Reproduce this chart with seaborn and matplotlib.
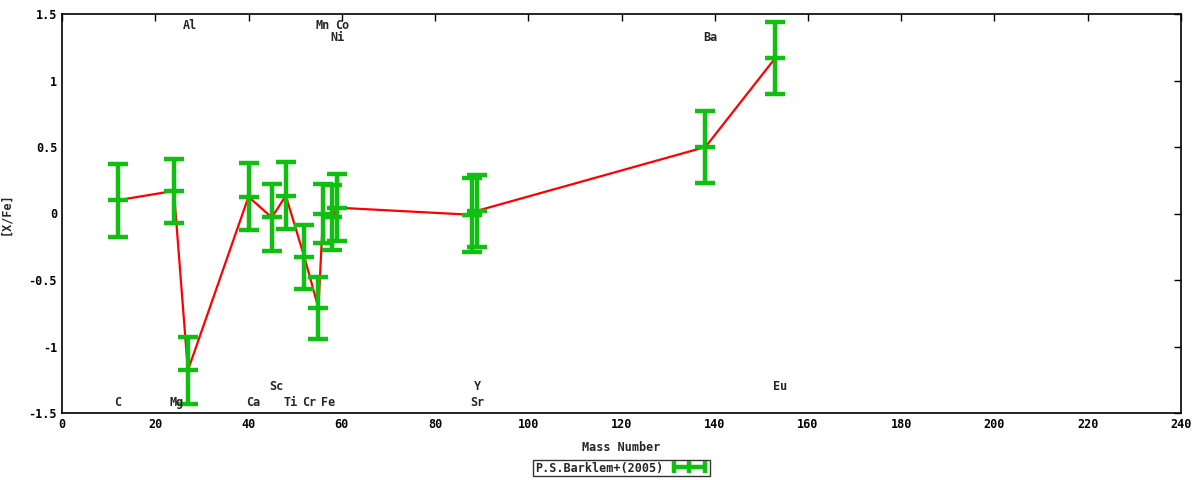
import numpy as np
import pandas as pd
import matplotlib
matplotlib.use('Agg')
import matplotlib.pyplot as plt
import seaborn as sns
from matplotlib.lines import Line2D
from matplotlib.ticker import FormatStrFormatter, MultipleLocator

sns.set_style('white')
plt.rcParams['font.family'] = ['DejaVu Sans Mono', 'DejaVu Sans']
plt.rcParams['font.weight'] = 'bold'
plt.rcParams['font.size'] = 8.5

# abundance data
elements = ['C', 'Mg', 'Al', 'Ca', 'Sc', 'Ti', 'Cr', 'Mn', 'Fe', 'Ni', 'Co', 'Sr', 'Y', 'Ba', 'Eu']
masses = [12, 24, 27, 40, 45, 48, 52, 55, 56, 58, 59, 88, 89, 138, 153]
xfe = [0.10, 0.17, -1.18, 0.126, -0.03, 0.134, -0.33, -0.71, 0.0, -0.03, 0.044, -0.01, 0.02, 0.50, 1.17]
err = [0.275, 0.24, 0.25, 0.25, 0.255, 0.25, 0.24, 0.235, 0.22, 0.245, 0.25, 0.28, 0.27, 0.27, 0.27]

# element name labels
lab_x = [12, 24.5, 27.5, 41, 46, 49, 53, 56, 57, 59, 60, 89, 89, 139, 154]
lab_y = [-1.42, -1.42, 1.41, -1.42, -1.30, -1.42, -1.42, 1.41, -1.42, 1.32, 1.41, -1.42, -1.30, 1.32, -1.30]

green = '#10c010'
df = pd.DataFrame({'mass': masses, 'xfe': xfe, 'err': err})

fig = plt.figure(figsize=(12, 4.8), dpi=100)
ax = fig.add_axes([62 / 1200, 1 - 413 / 480, (1181 - 62) / 1200, (413 - 14) / 480])

sns.lineplot(data=df, x='mass', y='xfe', color='red', lw=1.6, ax=ax, sort=True, legend=False)
ax.errorbar(df['mass'], df['xfe'], yerr=df['err'], fmt='_', color=green,
            ecolor=green, elinewidth=3.2, capsize=7, capthick=3.2,
            markersize=14, mew=3.2, zorder=3)

for name, lx, ly in zip(elements, lab_x, lab_y):
    ax.text(lx, ly, name, ha='center', va='center', fontsize=8.5, fontweight='bold')

ax.set_xlim(0, 240)
ax.set_ylim(-1.5, 1.5)
ax.xaxis.set_major_locator(MultipleLocator(20))
ax.yaxis.set_major_locator(MultipleLocator(0.5))
ax.yaxis.set_major_formatter(FormatStrFormatter('%g'))
ax.tick_params(direction='in', length=5, width=1, top=True, right=True,
               labelsize=8.5, colors='black')
for sp in ax.spines.values():
    sp.set_color('black')
    sp.set_linewidth(1.2)

ax.set_xlabel('Mass Number', fontsize=8.5, fontweight='bold', labelpad=7)
ax.set_ylabel('[X/Fe]', fontsize=8.5, fontweight='bold', labelpad=12)

# gnuplot-style key sample: horizontal bar with three ticks
handle = Line2D([], [], color=green, lw=3.2, marker='|', markersize=9, mew=3.2)
leg = ax.legend([handle], ['P.S.Barklem+(2005)'], loc='center', bbox_to_anchor=(0.5, -0.138),
                markerfirst=False, numpoints=3, frameon=True, fancybox=False,
                borderpad=0.15, handlelength=3.2, handletextpad=0.6, fontsize=8.5,
                borderaxespad=0)
leg.get_frame().set_edgecolor('black')
leg.get_frame().set_linewidth(1)

fig.savefig('out.png', dpi=100)
